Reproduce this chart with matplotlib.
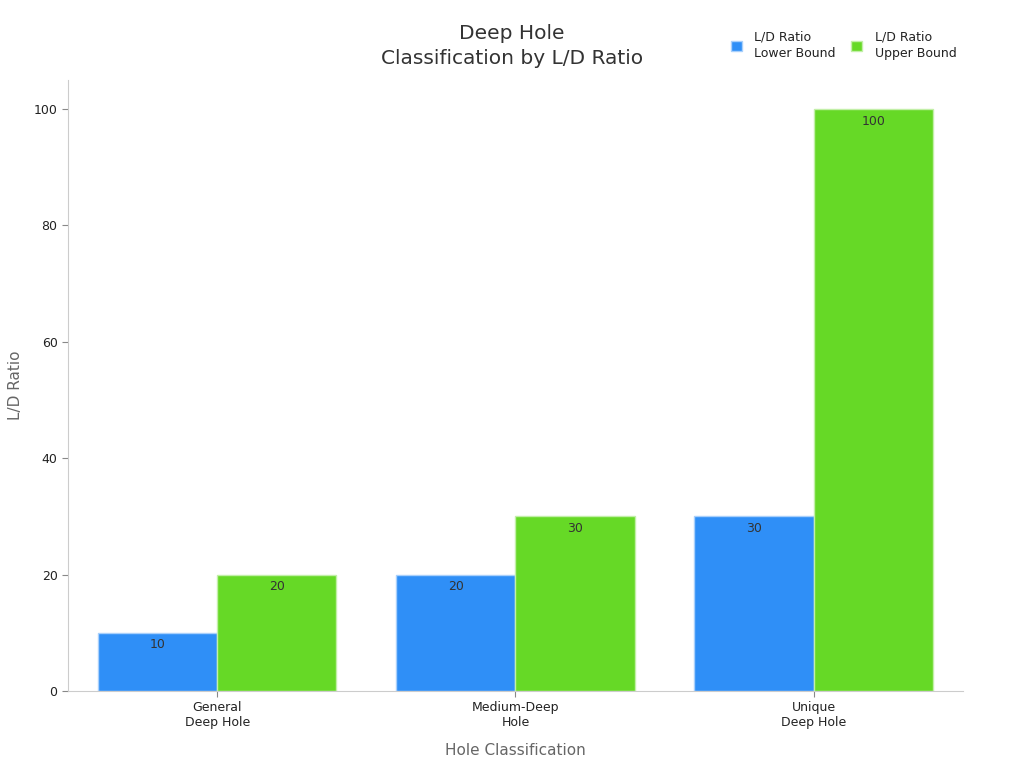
import matplotlib
matplotlib.use("Agg")
import matplotlib.pyplot as plt
import numpy as np

categories = ["General\nDeep Hole", "Medium-Deep\nHole", "Unique\nDeep Hole"]
lower_bound = [10, 20, 30]
upper_bound = [20, 30, 100]
series_names = ["L/D Ratio\nLower Bound", "L/D Ratio\nUpper Bound"]
yticks = [0, 20, 40, 60, 80, 100]

plt.rcParams['font.family'] = ['DejaVu Sans']
fig = plt.figure(figsize=(10.24, 7.68), dpi=100)
ax = fig.add_axes([0.0664, 0.1003, 0.874, 0.7955])

x = np.arange(len(categories))
w = 0.4
colors = ["#2f8ff7", "#66d926"]
b1 = ax.bar(x - w/2, lower_bound, w, color=colors[0], edgecolor="#a9d0fb", linewidth=1, label=series_names[0])
b2 = ax.bar(x + w/2, upper_bound, w, color=colors[1], edgecolor="#c2efa8", linewidth=1, label=series_names[1])

for bars, vals in ((b1, lower_bound), (b2, upper_bound)):
    for r, v in zip(bars, vals):
        ax.annotate(str(v), (r.get_x() + r.get_width()/2, v), xytext=(0, -4), textcoords="offset points",
                    ha="center", va="top", fontsize=9, color="#333333")

ax.set_xlim(-0.5, 2.5)
ax.set_ylim(0, 105)
ax.set_xticks(x)
ax.set_xticklabels(categories, fontsize=9, color="#222222")
ax.set_yticks(yticks)
ax.set_yticklabels([str(t) for t in yticks], fontsize=9, color="#222222")
ax.tick_params(axis='both', color="#888888", length=4)
for s in ["top", "right"]:
    ax.spines[s].set_visible(False)
for s in ["left", "bottom"]:
    ax.spines[s].set_color("#cccccc")

ax.set_xlabel("Hole Classification", fontsize=11, color="#666666", labelpad=10)
ax.set_ylabel("L/D Ratio", fontsize=11, color="#666666", labelpad=8)

fig.text(0.5, 0.94, "Deep Hole\nClassification by L/D Ratio", ha="center", va="center",
         fontsize=14.5, color="#333333", linespacing=1.45)

leg = fig.legend(handles=[b1, b2], loc="upper right", bbox_to_anchor=(0.945, 0.975), ncol=2,
                 frameon=False, fontsize=9, handlelength=0.9, handleheight=0.9,
                 columnspacing=1.2, handletextpad=1.0)
for t in leg.get_texts():
    t.set_color("#222222")
    t.set_linespacing(1.35)

fig.savefig("out.png", dpi=100)
